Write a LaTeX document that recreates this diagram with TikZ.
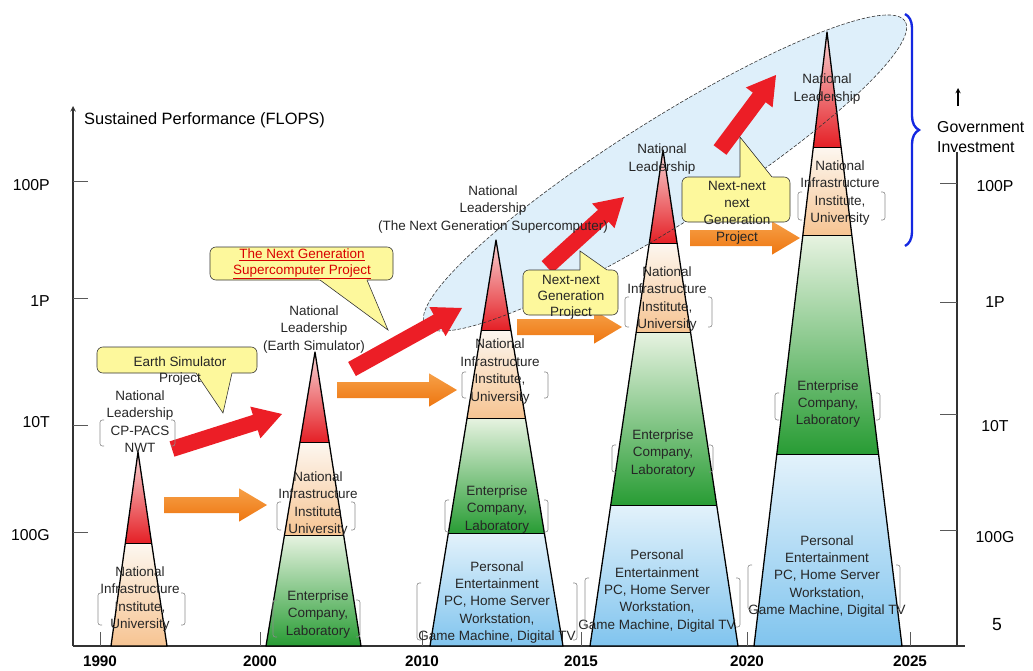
\documentclass[tikz,border=0pt]{standalone}
\usepackage{fontspec}
\setmainfont{Liberation Sans}
\setsansfont{Liberation Sans}
\usetikzlibrary{calc,decorations.pathreplacing}
\definecolor{red@NL}{RGB}{229,32,38}
\definecolor{pink@NL}{RGB}{248,214,214}
\definecolor{peach@NI}{RGB}{246,196,146}
\definecolor{cream@NI}{RGB}{253,247,240}
\definecolor{green@EC}{RGB}{40,156,52}
\definecolor{mint@EC}{RGB}{231,243,225}
\definecolor{blue@PE}{RGB}{128,196,238}
\definecolor{sky@PE}{RGB}{227,242,251}
\definecolor{oval@GI}{RGB}{222,239,250}
\definecolor{yellow@CO}{RGB}{253,248,156}
\definecolor{orange@AR}{RGB}{238,118,16}
\definecolor{orangelt@AR}{RGB}{246,160,72}
\definecolor{red@AR}{RGB}{236,30,38}
\definecolor{blue@GI}{RGB}{20,40,225}

\begin{document}
\begin{tikzpicture}[x=0.03cm, y=-0.03cm, font=\sffamily]
  \tikzstyle{lbl}=[align=center, inner sep=0pt, text=black!85, font=\fontsize{11.5}{14.9}\selectfont]
  \tikzstyle{co_lbl}=[align=center, inner sep=0pt, text=black!85, font=\fontsize{11.5}{13.6}\selectfont]
  \tikzstyle{tick_lbl}=[inner sep=0pt, font=\fontsize{13.5}{17}\selectfont]
  \tikzstyle{year_lbl}=[inner sep=0pt, font=\bfseries\fontsize{13}{15}\selectfont]
  \tikzstyle{axis}=[draw=black!80, line width=1.1pt]
  \tikzstyle{tick}=[draw=black!65, line width=0.6pt]
  \tikzstyle{tower}=[draw=black, line width=1.1pt, line join=round]
  \tikzstyle{band_line}=[draw=black, line width=0.8pt]
  \tikzstyle{red_band}=[top color=pink@NL, bottom color=red@NL]
  \tikzstyle{peach_band}=[top color=cream@NI, bottom color=peach@NI]
  \tikzstyle{green_band}=[top color=mint@EC, bottom color=green@EC]
  \tikzstyle{blue_band}=[top color=sky@PE, bottom color=blue@PE]
  \tikzstyle{callout}=[draw=black!80, line width=0.5pt, fill=yellow@CO, rounded corners=5pt]
  \tikzstyle{brk}=[draw=black!45, line width=0.5pt, rounded corners=2pt]
  \tikzstyle{red_arrow}=[fill=red@AR]
  \tikzstyle{orange_arrow}=[top color=orangelt@AR, bottom color=orange@AR]

  % constants
  \def \Base {646}
  \def \ShaftW {0.24cm}
  \def \HeadW {0.5cm}
  \def \HeadL {0.84cm}

  \useasboundingbox (0,0) rectangle (1033,671);

  % oval behind the national leadership peaks
  \fill[oval@GI, rotate around={32.3:(665,173)}] (665,173) ellipse [x radius=8.52cm, y radius=1.56cm];

  % axes
  \coordinate (origin) at (73,\Base);
  \coordinate (ytop) at (73,106);
  \coordinate (xend) at (965,\Base);
  \coordinate (rtop) at (957,152);
  \coordinate (rbot) at (957,\Base);
  \draw[axis, -stealth] (origin) -- (ytop);
  \draw[axis] (origin) -- (xend);
  \draw[axis] (rbot) -- (rtop);
  \node[tick_lbl, anchor=west, font=\fontsize{14}{17}\selectfont] (ylab) at (84,120) {Sustained Performance (FLOPS)};

  \foreach \y/\ly/\lab in {181/185/100P, 298/301/1P, 425/422/10T, 532/535/100G}
  {
    \draw[tick] (73,\y) -- (88,\y);
    \node[tick_lbl, anchor=east] (l\lab) at (50,\ly) {\lab};
  }
  \foreach \y/\ly/\lab in {183/186/100P, 302/302/1P, 414/426/10T, 530/537/100G}
  {
    \draw[tick] (940,\y) -- (957,\y);
    \node[tick_lbl] (r\lab) at (995,\ly) {\lab};
  }
  \node[tick_lbl, font=\fontsize{15}{17}\selectfont] (rfive) at (997,625) {5};

  \foreach \x/\yr in {100/1990, 260/2000, 422/2010, 581/2015, 747/2020, 910/2025}
  {
    \draw[tick] (\x,632) -- (\x,\Base);
    \node[year_lbl] (y\yr) at (\x,661) {\yr};
  }

  % government investment
  \coordinate (gib) at (958,106);
  \coordinate (git) at (958,88);
  \draw[line width=1pt, -stealth] (gib) -- (git);
  \node[tick_lbl, anchor=west, align=left] (gov) at (937,137) {Government\\Investment};
  \coordinate (bt) at (905,14);
  \coordinate (bb) at (905,246);
  \draw[blue@GI, line width=2pt, decorate, decoration={brace, amplitude=0.42cm}] (bt) -- (bb);

  % towers: apex x/apex y/base left/base right/red bottom/peach bottom/green bottom
  \foreach \ax/\ay/\lx/\rx/\rb/\pb/\gb in
    {
      138/452/111/167/543/646/646,
      315/352/266/361/442/535/646,
      496/240/430/563/330/418/533,
      663/150/590/738/243/332/505,
      827/32/754/902/147/235/454%
    }
  {
    \begin{scope}
      \clip (\ax,\ay) -- (\lx,\Base) -- (\rx,\Base) -- cycle;
      \shade[red_band] (0,\ay) rectangle (1033,\rb);
      \ifnum\pb>\rb \shade[peach_band] (0,\rb) rectangle (1033,\pb); \fi
      \ifnum\gb>\pb \shade[green_band] (0,\pb) rectangle (1033,\gb); \fi
      \ifnum\Base>\gb \shade[blue_band] (0,\gb) rectangle (1033,\Base); \fi
      \draw[band_line] (0,\rb) -- (1033,\rb);
      \ifnum\Base>\pb \draw[band_line, line width=0.5pt] (0,\pb) -- (1033,\pb); \fi
      \ifnum\Base>\gb \draw[band_line] (0,\gb) -- (1033,\gb); \fi
    \end{scope}
    \draw[tower] (\ax,\ay) -- (\lx,\Base) -- (\rx,\Base) -- cycle;
  }

  % oval border
  \draw[black!80, line width=0.5pt, dash pattern=on 3pt off 1.5pt, rotate around={32.3:(665,173)}] (665,173) ellipse [x radius=8.52cm, y radius=1.56cm];

  % block arrows
  \foreach \i/\tx/\ty/\hx/\hy/\sty in
    {
      1/172/449/282/414/red_arrow,
      2/352/369/462/308/red_arrow,
      3/547/267/624/197/red_arrow,
      4/720/150/776/75/red_arrow,
      5/164/505/267/505/orange_arrow,
      6/337/390/457/390/orange_arrow,
      7/517/327/622/327/orange_arrow,
      8/690/238/800/238/orange_arrow%
    }
  {
    \coordinate (at\i) at (\tx,\ty);
    \coordinate (ah\i) at (\hx,\hy);
    \coordinate (an\i) at ($(ah\i)!\HeadL!(at\i)$);
    \path[\sty] ($(at\i)!\ShaftW!90:(ah\i)$) -- ($(an\i)!\ShaftW!90:(ah\i)$)
      -- ($(an\i)!\HeadW!90:(ah\i)$) -- (ah\i) -- ($(an\i)!\HeadW!-90:(ah\i)$)
      -- ($(an\i)!\ShaftW!-90:(ah\i)$) -- ($(at\i)!\ShaftW!-90:(ah\i)$) -- cycle;
  }

  % callouts: box corners / pointer base / pointer tip
  \foreach \i/\xa/\ya/\xb/\yb/\pa/\pb/\py/\tx/\ty in
    {
      1/97/347/257/373/196/232/373/223/413,
      2/210/247/393/280/320/367/280/388/330,
      3/523/270/618/315/580/607/270/580/251,
      4/682/177/790/222/740/772/177/740/137%
    }
  {
    \draw[callout] (\xa,\ya) rectangle (\xb,\yb);
    \coordinate (cpa\i) at (\pa,\py);
    \coordinate (cpb\i) at (\pb,\py);
    \coordinate (cpt\i) at (\tx,\ty);
    \fill[yellow@CO] ($(cpa\i)!-0.15!(cpt\i)$) -- (cpt\i) -- ($(cpb\i)!-0.15!(cpt\i)$) -- cycle;
    \draw[black!80, line width=0.5pt] (cpa\i) -- (cpt\i) -- (cpb\i);
  }
  \node[co_lbl] (cs1) at (180,371) {Earth Simulator\\Project};
  \node[co_lbl, text=red!85!black] (cs2) at (302,264) {\underline{The Next Generation}\\\underline{Supercomputer Project}};
  \node[co_lbl] (cs3) at (571,297.5) {Next-next\\Generation\\Project};
  \node[lbl, font=\fontsize{11.5}{14.4}\selectfont] (cs4) at (737,212.5) {Next-next\\next\\Generation\\Project};

  % tower labels
  \node[lbl] (t1lead) at (140,421.5) {National\\Leadership\\CP-PACS\\NWT};
  \node[lbl] (t1inf) at (140,599) {National\\Infrastructure\\Institute,\\University};
  \node[lbl] (t2lead) at (314,329.5) {National\\Leadership\\(Earth Simulator)};
  \node[lbl] (t2inf) at (318,504) {National\\Infrastructure\\Institute\\University};
  \node[lbl] (t2ent) at (318,614.5) {Enterprise\\Company,\\Laboratory};
  \node[lbl] (t3lead) at (493,209.5) {National\\Leadership\\(The Next Generation Supercomputer)};
  \node[lbl] (t3inf) at (500,371.5) {National\\Infrastructure\\Institute,\\University};
  \node[lbl] (t3ent) at (497,509.5) {Enterprise\\Company,\\Laboratory};
  \node[lbl] (t3per) at (497,602.5) {Personal\\Entertainment\\PC, Home Server\\Workstation,\\Game Machine, Digital TV};
  \node[lbl] (t4lead) at (662,159) {National\\Leadership};
  \node[lbl] (t4inf) at (667,299) {National\\Infrastructure\\Institute,\\University};
  \node[lbl] (t4ent) at (663,453.5) {Enterprise\\Company,\\Laboratory};
  \node[lbl] (t4per) at (657,591) {Personal\\Entertainment\\PC, Home Server\\Workstation,\\Game Machine, Digital TV};
  \node[lbl] (t5lead) at (827,89) {National\\Leadership};
  \node[lbl] (t5inf) at (840,193) {National\\Infrastructure\\Institute,\\University};
  \node[lbl] (t5ent) at (828,404) {Enterprise\\Company,\\Laboratory};
  \node[lbl] (t5per) at (827,576.5) {Personal\\Entertainment\\PC, Home Server\\Workstation,\\Game Machine, Digital TV};

  % brackets round the labels
  \foreach \xl/\xr/\yt/\yb in
    {
      100/175/420/446, 98/185/593/625,
      277/355/502/530, 273/360/600/637,
      462/548/372/398, 445/548/500/532, 417/577/583/640,
      625/712/297/327, 612/713/445/472, 585/740/578/627,
      798/885/192/220, 775/880/393/420, 748/900/565/610%
    }
  {
    \draw[brk] (\xl+4,\yt) -- (\xl,\yt) -- (\xl,\yb) -- (\xl+4,\yb);
    \draw[brk] (\xr-4,\yt) -- (\xr,\yt) -- (\xr,\yb) -- (\xr-4,\yb);
  }

\end{tikzpicture}
\end{document}
